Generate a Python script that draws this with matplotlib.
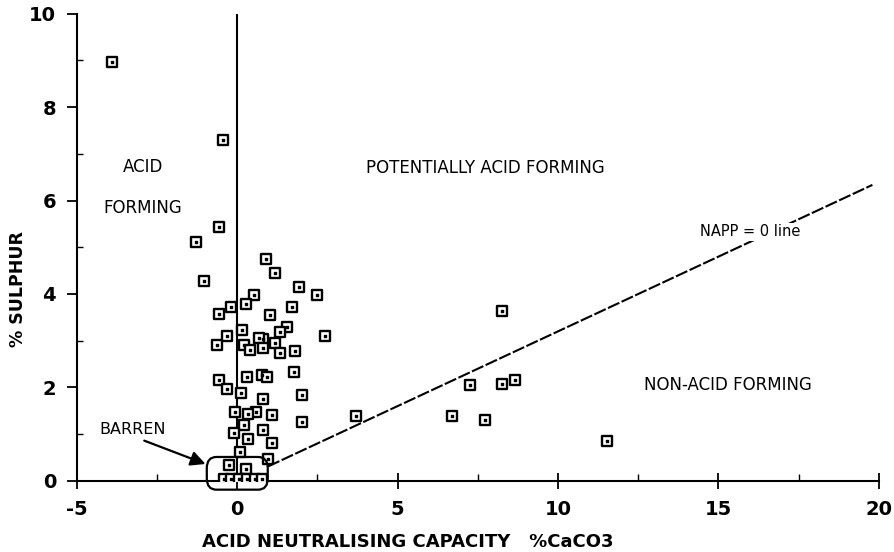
import matplotlib
matplotlib.use("Agg")
import matplotlib.pyplot as plt
from matplotlib.patches import FancyBboxPatch
import numpy as np

# ANC (%CaCO3) and total sulphur (%) of the samples
anc = [-3.9, -0.46, -0.57, -1.28, 0.91, 1.19, -1.05, 1.91, 2.48, 0.52,
       0.26, 1.70, -0.21, -0.57, 1.01, 0.15, 1.55, 1.34, 2.73, -0.31,
       -0.62, 0.21, 0.80, 0.67, 1.19, 1.34, 0.80, 0.41, 1.79, 0.31,
       0.77, 0.93, 1.77, -0.57, -0.31, 0.13, 2.01, 0.80, -0.08, 0.57,
       0.34, 1.08, 2.01, 0.21, -0.10, 0.80, 0.33, 1.08, 0.10, 0.95,
       -0.26, 0.26, -0.41, -0.20, 0.05, 0.30, 0.55, 0.78,
       3.70, 6.69, 7.25, 7.72, 8.26, 8.26, 8.65, 11.53]
sulphur = [8.96, 7.29, 5.43, 5.12, 4.75, 4.45, 4.27, 4.15, 3.97, 3.97,
           3.79, 3.72, 3.72, 3.58, 3.56, 3.22, 3.29, 3.18, 3.10, 3.09,
           2.91, 2.91, 3.03, 3.05, 2.95, 2.73, 2.84, 2.80, 2.79, 2.23,
           2.27, 2.23, 2.32, 2.16, 1.96, 1.88, 1.84, 1.75, 1.48, 1.48,
           1.43, 1.41, 1.25, 1.20, 1.03, 1.09, 0.89, 0.81, 0.61, 0.46,
           0.34, 0.25, 0.03, 0.03, 0.03, 0.03, 0.03, 0.03,
           1.38, 1.38, 2.05, 1.30, 3.63, 2.08, 2.15, 0.86]

# NAPP = 0 line: S% * 30.6 = ANC * 9.8  ->  S = 0.32 * ANC
napp_slope = 0.32
napp_x = [0.96, 19.8]

x_ticks = [-5, 0, 5, 10, 15, 20]
y_ticks = [0, 2, 4, 6, 8, 10]

plt.rcParams['font.family'] = ['DejaVu Sans']
plt.rcParams['axes.unicode_minus'] = False

fig = plt.figure(figsize=(8.94, 5.52), dpi=100)
ax = fig.add_axes([0.086, 0.129, 0.897, 0.846])

ax.set_xlim(-5, 20)
ax.set_ylim(0, 10)

# vertical line at ANC = 0
ax.plot([0, 0], [0, 10], color="black", linewidth=1.5, zorder=2)

# NAPP = 0 line (broken behind its label)
lx = np.array(napp_x)
ax.plot(lx, napp_slope * lx, color="black", linewidth=1.5,
        linestyle=(0, (6, 1.2)), zorder=2)

ax.scatter(anc, sulphur, marker="s", s=42, facecolors="white",
           edgecolors="black", linewidths=1.7, zorder=3)
ax.scatter(anc, sulphur, marker="s", s=2, color="black", zorder=4)

# barren zone
barren = FancyBboxPatch((-0.95, -0.19), 1.9, 0.70,
                        boxstyle="round,pad=0,rounding_size=0.3",
                        fill=False, edgecolor="black", linewidth=1.6,
                        clip_on=False, zorder=5, mutation_aspect=0.8)
ax.add_patch(barren)
ax.annotate("", xy=(-0.99, 0.36), xytext=(-2.9, 0.86),
            arrowprops=dict(arrowstyle="-|>", color="black", lw=1.6,
                            shrinkA=0, shrinkB=0, mutation_scale=22))
ax.text(-3.25, 1.1, "BARREN", fontsize=11.5, ha="center", va="center")

ax.text(-2.95, 6.73, "ACID", fontsize=12, ha="center", va="center")
ax.text(-2.95, 5.85, "FORMING", fontsize=12, ha="center", va="center")
ax.text(7.74, 6.70, "POTENTIALLY ACID FORMING", fontsize=12,
        ha="center", va="center")
ax.text(15.3, 2.06, "NON-ACID FORMING", fontsize=12, ha="center", va="center")
ax.text(16.0, 5.33, "NAPP = 0 line", fontsize=10.5, ha="center", va="center",
        bbox=dict(facecolor="white", edgecolor="none", pad=1), zorder=6)

ax.set_xticks(x_ticks)
ax.set_yticks(y_ticks)
ax.set_xticks(np.arange(-2.5, 20, 2.5), minor=True)
ax.set_yticks(np.arange(1, 10, 2), minor=True)
ax.tick_params(axis="x", which="major", direction="inout", length=12,
               width=1.3, labelsize=14, pad=8)
ax.tick_params(axis="x", which="minor", direction="in", length=5, width=1.0)
ax.tick_params(axis="y", which="major", direction="out", length=7,
               width=1.3, labelsize=14, pad=8)
ax.tick_params(axis="y", which="minor", direction="in", length=4, width=1.0)
for lab in ax.get_xticklabels() + ax.get_yticklabels():
    lab.set_fontweight("bold")

ax.spines["top"].set_visible(False)
ax.spines["right"].set_visible(False)
ax.spines["left"].set_linewidth(1.5)
ax.spines["bottom"].set_linewidth(1.5)

ax.set_xlabel("ACID NEUTRALISING CAPACITY   %CaCO3", fontsize=13,
              fontweight="bold", va="center")
ax.xaxis.set_label_coords(0.413, -0.131)
ax.set_ylabel("% SULPHUR", fontsize=12.5, fontweight="bold", va="center")
ax.yaxis.set_label_coords(-0.073, 0.41)

fig.savefig("out.png", dpi=100)
